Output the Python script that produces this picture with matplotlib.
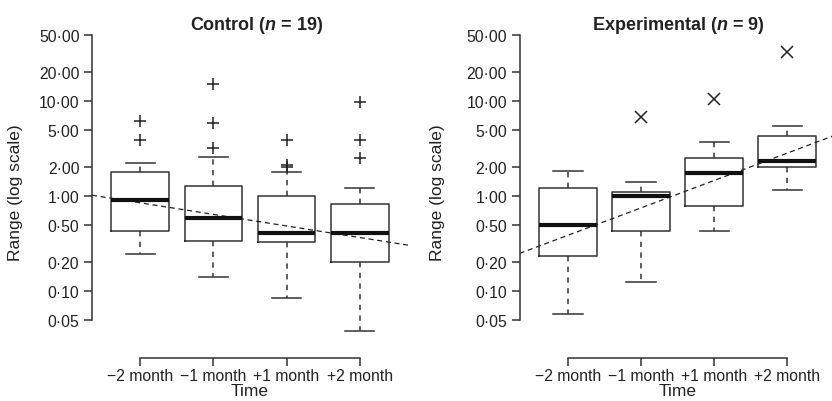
import matplotlib
matplotlib.use("Agg")
import matplotlib.pyplot as plt
from matplotlib.ticker import FixedLocator, FixedFormatter, NullLocator

plt.rcParams['font.family'] = ['Liberation Sans', 'DejaVu Sans']
plt.rcParams['mathtext.fontset'] = 'custom'
plt.rcParams['mathtext.it'] = 'Liberation Sans:bold:italic'
plt.rcParams['mathtext.rm'] = 'Liberation Sans:bold'

time_labels = ["\u22122 month", "\u22121 month", "+1 month", "+2 month"]
yticks = [0.05, 0.1, 0.2, 0.5, 1, 2, 5, 10, 20, 50]
ytick_labels = ["0\u00b705", "0\u00b710", "0\u00b720", "0\u00b750", "1\u00b700",
                "2\u00b700", "5\u00b700", "10\u00b700", "20\u00b700", "50\u00b700"]

# control group (n = 19)
ctrl_lo = [0.245, 0.14, 0.085, 0.038]
ctrl_q1 = [0.43, 0.336, 0.33, 0.20]
ctrl_med = [0.91, 0.59, 0.41, 0.41]
ctrl_q3 = [1.79, 1.27, 1.0, 0.82]
ctrl_hi = [2.22, 2.57, 1.79, 1.21]
ctrl_out = [[3.9, 6.2], [3.2, 5.9, 15.1], [2.0, 2.1, 3.9], [2.5, 3.9, 9.7]]
ctrl_trend_x = [0.34, 4.66]
ctrl_trend_y = [1.02, 0.304]

# experimental group (n = 9)
exp_lo = [0.057, 0.124, 0.43, 1.16]
exp_q1 = [0.234, 0.43, 0.785, 2.02]
exp_med = [0.495, 1.0, 1.75, 2.33]
exp_q3 = [1.21, 1.10, 2.51, 4.28]
exp_hi = [1.83, 1.40, 3.7, 5.46]
exp_out = [[], [6.8], [10.5], [32.8]]
exp_trend_x = [0.34, 4.66]
exp_trend_y = [0.249, 4.39]

edge = '#333333'


def panel(ax, lo, q1, med, q3, hi, out, tx, ty, marker, ylab_x):
    stats = []
    for i in range(len(med)):
        stats.append(dict(whislo=lo[i], q1=q1[i], med=med[i], q3=q3[i],
                          whishi=hi[i], fliers=out[i]))
    ax.bxp(stats, positions=[1, 2, 3, 4], widths=0.79, showfliers=True,
           boxprops=dict(color=edge, lw=1.1),
           medianprops=dict(color='#111111', lw=3.0, solid_capstyle='butt'),
           whiskerprops=dict(color=edge, lw=1.1, ls=(0, (3.5, 3.5))),
           capprops=dict(color=edge, lw=1.1),
           capwidths=0.4,
           flierprops=dict(marker=marker, markersize=8, markeredgewidth=1.1,
                           markeredgecolor='#222222', linestyle='none'))
    ax.plot(tx, ty, color='#222222', lw=0.9, ls=(0, (4, 3)))

    ax.set_yscale('log')
    ax.set_xlim(0.34, 4.66)
    ax.set_ylim(10 ** -1.505, 10 ** 1.758)
    ax.yaxis.set_major_locator(FixedLocator(yticks))
    ax.yaxis.set_major_formatter(FixedFormatter(ytick_labels))
    ax.yaxis.set_minor_locator(NullLocator())
    ax.set_xticks([1, 2, 3, 4])
    ax.set_xticklabels(time_labels)

    for s in ['top', 'right']:
        ax.spines[s].set_visible(False)
    ax.spines['left'].set_bounds(0.05, 50)
    ax.spines['bottom'].set_bounds(1, 4)
    ax.spines['bottom'].set_position(('outward', 14))
    for s in ['left', 'bottom']:
        ax.spines[s].set_color(edge)
        ax.spines[s].set_linewidth(1.1)
    ax.tick_params(axis='both', length=6, width=1.1, color=edge,
                   labelsize=11.3, labelcolor='#222222', pad=3)
    ax.tick_params(axis='x', pad=1)
    ax.patch.set_alpha(0)

    ax.set_ylabel("Range (log scale)", fontsize=12.5, color='#222222')
    ax.yaxis.set_label_coords(ylab_x, 0.475)
    ax.set_xlabel("Time", fontsize=12.5, color='#222222', labelpad=0)


fig = plt.figure(figsize=(8.32, 4.02), dpi=100)
ax1 = fig.add_axes([92 / 832, 62 / 402, 316 / 832, 310 / 402])
ax2 = fig.add_axes([519.6 / 832, 62 / 402, 316 / 832, 310 / 402])

panel(ax1, ctrl_lo, ctrl_q1, ctrl_med, ctrl_q3, ctrl_hi, ctrl_out,
      ctrl_trend_x, ctrl_trend_y, '+', -0.218)
panel(ax2, exp_lo, exp_q1, exp_med, exp_q3, exp_hi, exp_out,
      exp_trend_x, exp_trend_y, 'x', -0.236)

fig.text(257 / 832, 1 - 25 / 402, r"Control ($n$ = 19)", ha='center', va='center',
         fontsize=13, fontweight='bold', color='#222222')
fig.text(678 / 832, 1 - 25 / 402, r"Experimental ($n$ = 9)", ha='center', va='center',
         fontsize=13, fontweight='bold', color='#222222')

fig.savefig("out.png", dpi=100)
